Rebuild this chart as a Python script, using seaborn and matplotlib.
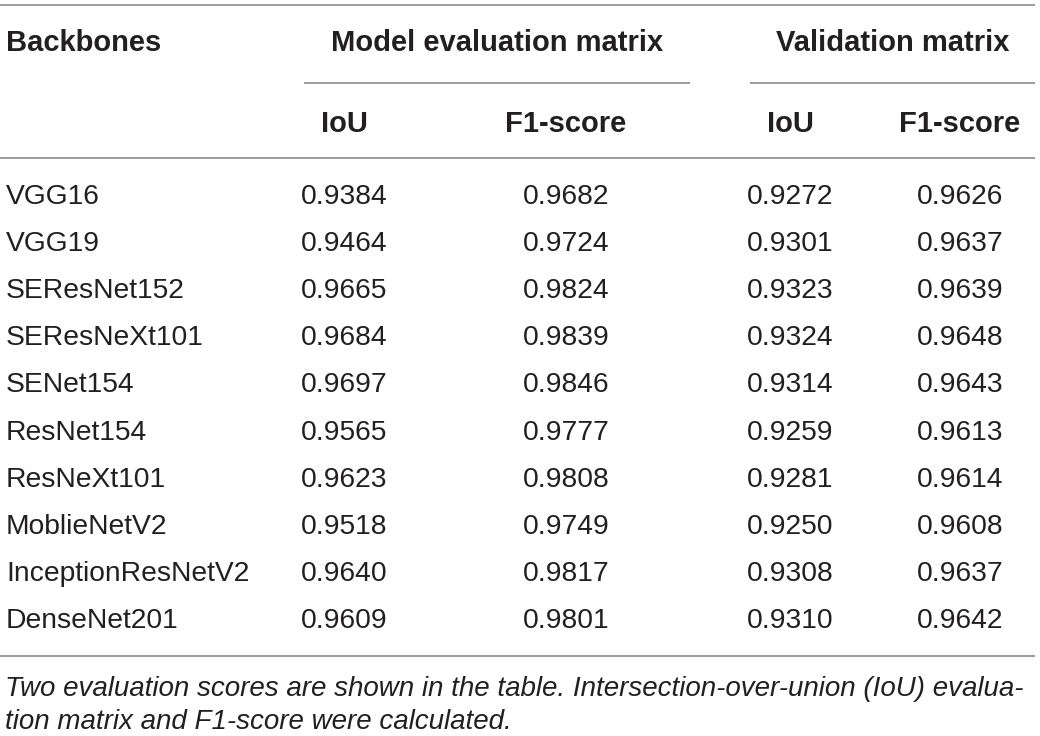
import matplotlib
matplotlib.use("Agg")
import matplotlib.pyplot as plt
import seaborn as sns

backbones = [
    "VGG16", "VGG19", "SEResNet152", "SEResNeXt101", "SENet154",
    "ResNet154", "ResNeXt101", "MoblieNetV2", "InceptionResNetV2", "DenseNet201",
]
model_iou = [0.9384, 0.9464, 0.9665, 0.9684, 0.9697, 0.9565, 0.9623, 0.9518, 0.9640, 0.9609]
model_f1 = [0.9682, 0.9724, 0.9824, 0.9839, 0.9846, 0.9777, 0.9808, 0.9749, 0.9817, 0.9801]
val_iou = [0.9272, 0.9301, 0.9323, 0.9324, 0.9314, 0.9259, 0.9281, 0.9250, 0.9308, 0.9310]
val_f1 = [0.9626, 0.9637, 0.9639, 0.9648, 0.9643, 0.9613, 0.9614, 0.9608, 0.9637, 0.9642]

group_headers = ["Model evaluation matrix", "Validation matrix"]
sub_headers = ["IoU", "F1-score", "IoU", "F1-score"]
caption = [
    "Two evaluation scores are shown in the table. Intersection-over-union (IoU) evalua-",
    "tion matrix and F1-score were calculated.",
]

sns.set_theme(style="white")
plt.rcParams["font.family"] = ["Liberation Sans", "DejaVu Sans"]

text_color = "#231f20"
line_color = "#8a8a8a"
fs_body = 20.3
fs_head = 21
fs_cap = 20.0

fig = plt.figure(figsize=(10.4, 7.36), dpi=100)
ax = fig.add_axes([0, 0, 1, 1])
ax.set_xlim(0, 1040)
ax.set_ylim(736, 0)
ax.axis("off")

# column centres for the score columns, left edge for the name column
name_x = 6
col_x = [344, 566, 790, 960]
row_y0 = 197
row_step = 47.1

# rules
ax.hlines(5, 0, 1035, color=line_color, lw=1.2)
ax.hlines(83, 304, 690, color=line_color, lw=1.2)
ax.hlines(83, 750, 1035, color=line_color, lw=1.2)
ax.hlines(158, 0, 1035, color=line_color, lw=1.2)
ax.hlines(656, 0, 1035, color=line_color, lw=1.2)

# headers
ax.text(name_x, 43, "Backbones", fontsize=fs_head, fontweight="bold",
        color=text_color, va="center", ha="left")
ax.text(497, 43, group_headers[0], fontsize=fs_head, fontweight="bold",
        color=text_color, va="center", ha="center")
ax.text(893, 43, group_headers[1], fontsize=fs_head, fontweight="bold",
        color=text_color, va="center", ha="center")
for x, label in zip(col_x, sub_headers):
    ax.text(x, 124, label, fontsize=fs_head, fontweight="bold",
            color=text_color, va="center", ha="center")

# body
columns = [model_iou, model_f1, val_iou, val_f1]
for i, name in enumerate(backbones):
    y = row_y0 + i * row_step
    ax.text(name_x, y, name, fontsize=fs_body, color=text_color, va="center", ha="left")
    for x, values in zip(col_x, columns):
        ax.text(x, y, f"{values[i]:.4f}", fontsize=fs_body, color=text_color,
                va="center", ha="center")

# caption
for j, line in enumerate(caption):
    ax.text(5, 689 + j * 33, line, fontsize=fs_cap, style="italic",
            color=text_color, va="center", ha="left")

fig.savefig("out.png", dpi=100)
plt.close(fig)
